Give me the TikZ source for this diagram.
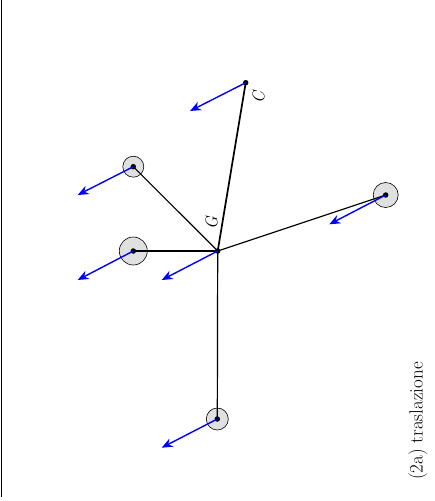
\documentclass[tikz,border=0pt]{standalone}
\usetikzlibrary{arrows.meta}
\begin{document}
\begin{tikzpicture}[x=1pt,y=-1pt,
  mass/.style={circle,draw=black,line width=0.6pt,fill=black!12,inner sep=0pt},
  pt/.style={circle,fill=black,inner sep=0pt,minimum size=5.5pt},
  rod/.style={black,line width=1.2pt},
  vel/.style={blue,line width=1.4pt,-{Stealth[length=11pt,width=9pt]}},
  lab/.style={font=\fontsize{17}{20}\selectfont\itshape,rotate=90}]
\useasboundingbox (0,0) rectangle (435,501);
\draw[line width=1.3pt] (1.5,0) -- (1.5,497);
% masses
\node[mass,minimum size=21pt] (m1) at (133.3,166.7) {};
\node[mass,minimum size=28pt] (m2) at (133.3,251) {};
\node[mass,minimum size=25pt] (m3) at (385.7,195) {};
\node[mass,minimum size=22pt] (m4) at (217.3,419) {};
\coordinate (G) at (217.7,251);
\coordinate (C) at (245.7,82.7);
% rods
\draw[rod] (G) -- (m1.center);
\draw[rod] (G) -- (m2.center);
\draw[rod] (G) -- (m3.center);
\draw[rod] (G) -- (m4.center);
\draw[rod,line width=1.7pt] (G) -- (C);
% dots
\node[pt] (d1) at (m1.center) {};
\node[pt] (d2) at (m2.center) {};
\node[pt] (d3) at (m3.center) {};
\node[pt] (d4) at (m4.center) {};
\node[pt] (dG) at (G) {};
\node[pt] (dC) at (C) {};
% velocities
\coordinate (vC) at (190,111);
\coordinate (v1) at (77.7,195);
\coordinate (v2) at (77.7,280);
\coordinate (vG) at (161.7,280);
\coordinate (v3) at (329.3,224.3);
\coordinate (v4) at (161.7,447.7);
\draw[vel] (C) -- (vC);
\draw[vel] (m1.center) -- (v1);
\draw[vel] (m2.center) -- (v2);
\draw[vel] (G) -- (vG);
\draw[vel] (m3.center) -- (v3);
\draw[vel] (m4.center) -- (v4);
% labels
\node[lab] (lC) at (258.5,98) {C};
\node[lab] (lG) at (211.5,223.5) {G};
\node[rotate=90,font=\fontsize{19}{22}\selectfont] (cap) at (418,421) {(2a) traslazione};
\end{tikzpicture}
\end{document}
